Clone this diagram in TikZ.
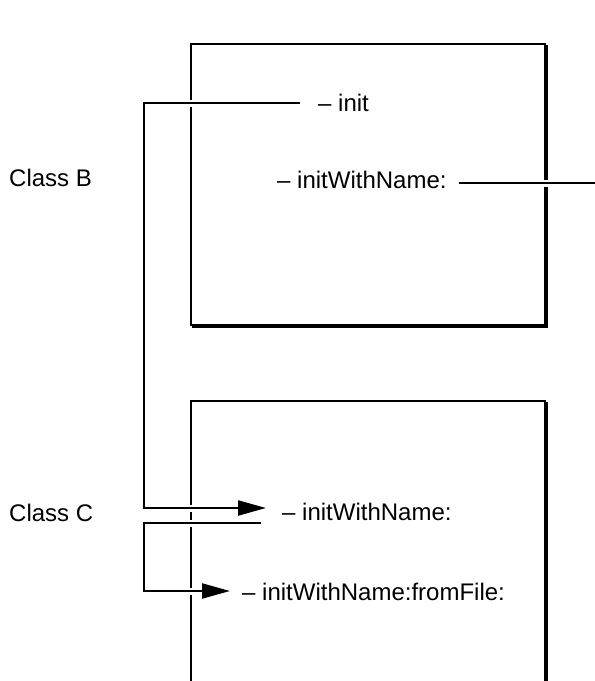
\documentclass[tikz,border=0pt]{standalone}
\usepackage{fontspec}
\setmainfont{Liberation Sans}
\usetikzlibrary{arrows.meta}
\begin{document}
\begin{tikzpicture}[x=1pt,y=-1pt,
  lbl/.style={inner sep=0pt, anchor=base west, font=\fontsize{24}{28}\selectfont},
  edge/.style={line width=2.2pt, black},
  halo/.style={line width=7pt, white},
  conn/.style={line width=2.2pt, black},
  arr/.style={conn, -{Triangle[length=28pt,width=15pt]}}]
\useasboundingbox (0,0) rectangle (595,681);
\clip (0,0) rectangle (595,681);
% Class B box with shadow
\draw[edge] (192.6,45.6) rectangle (546.6,326.6);
\draw[edge, fill=white] (191,44) rectangle (545,325);
% Class C box (open at the bottom) with shadow
\draw[edge] (192.6,402.6) -- (546.6,402.6) -- (546.6,700);
\fill[white] (191,401) rectangle (545,700);
\draw[edge] (191,700) -- (191,401) -- (545,401) -- (545,700);
% texts
\node[lbl] (classB) at (9,186) {Class B};
\node[lbl] (classC) at (9,521) {Class C};
\node[lbl] (init) at (318,111) {– init};
\node[lbl] (nameB) at (277,188) {– initWithName:};
\node[lbl] (nameC) at (282,520) {– initWithName:};
\node[lbl] (file) at (242,600) {– initWithName:fromFile:};
% connector points
\coordinate (s1) at (init.west |- 0,103);
\coordinate (a1) at (300,103);
\coordinate (k1) at (144,103);
\coordinate (t1) at (266,508);
\coordinate (a2) at (261,523);
\coordinate (k2) at (144,523);
\coordinate (t2) at (230,591);
\coordinate (a3) at (459,183);
\coordinate (e3) at (595,183);
% halos (gaps in the box edges)
\draw[halo] (a1) -- (k1) |- ([xshift=-26pt]t1);
\draw[halo] (a2) -- (k2) |- ([xshift=-26pt]t2);
\draw[halo] (a3) -- (e3);
% connectors
\draw[arr] (a1) -- (k1) |- (t1);
\draw[arr] (a2) -- (k2) |- (t2);
\draw[conn] (a3) -- (e3);
\end{tikzpicture}
\end{document}
